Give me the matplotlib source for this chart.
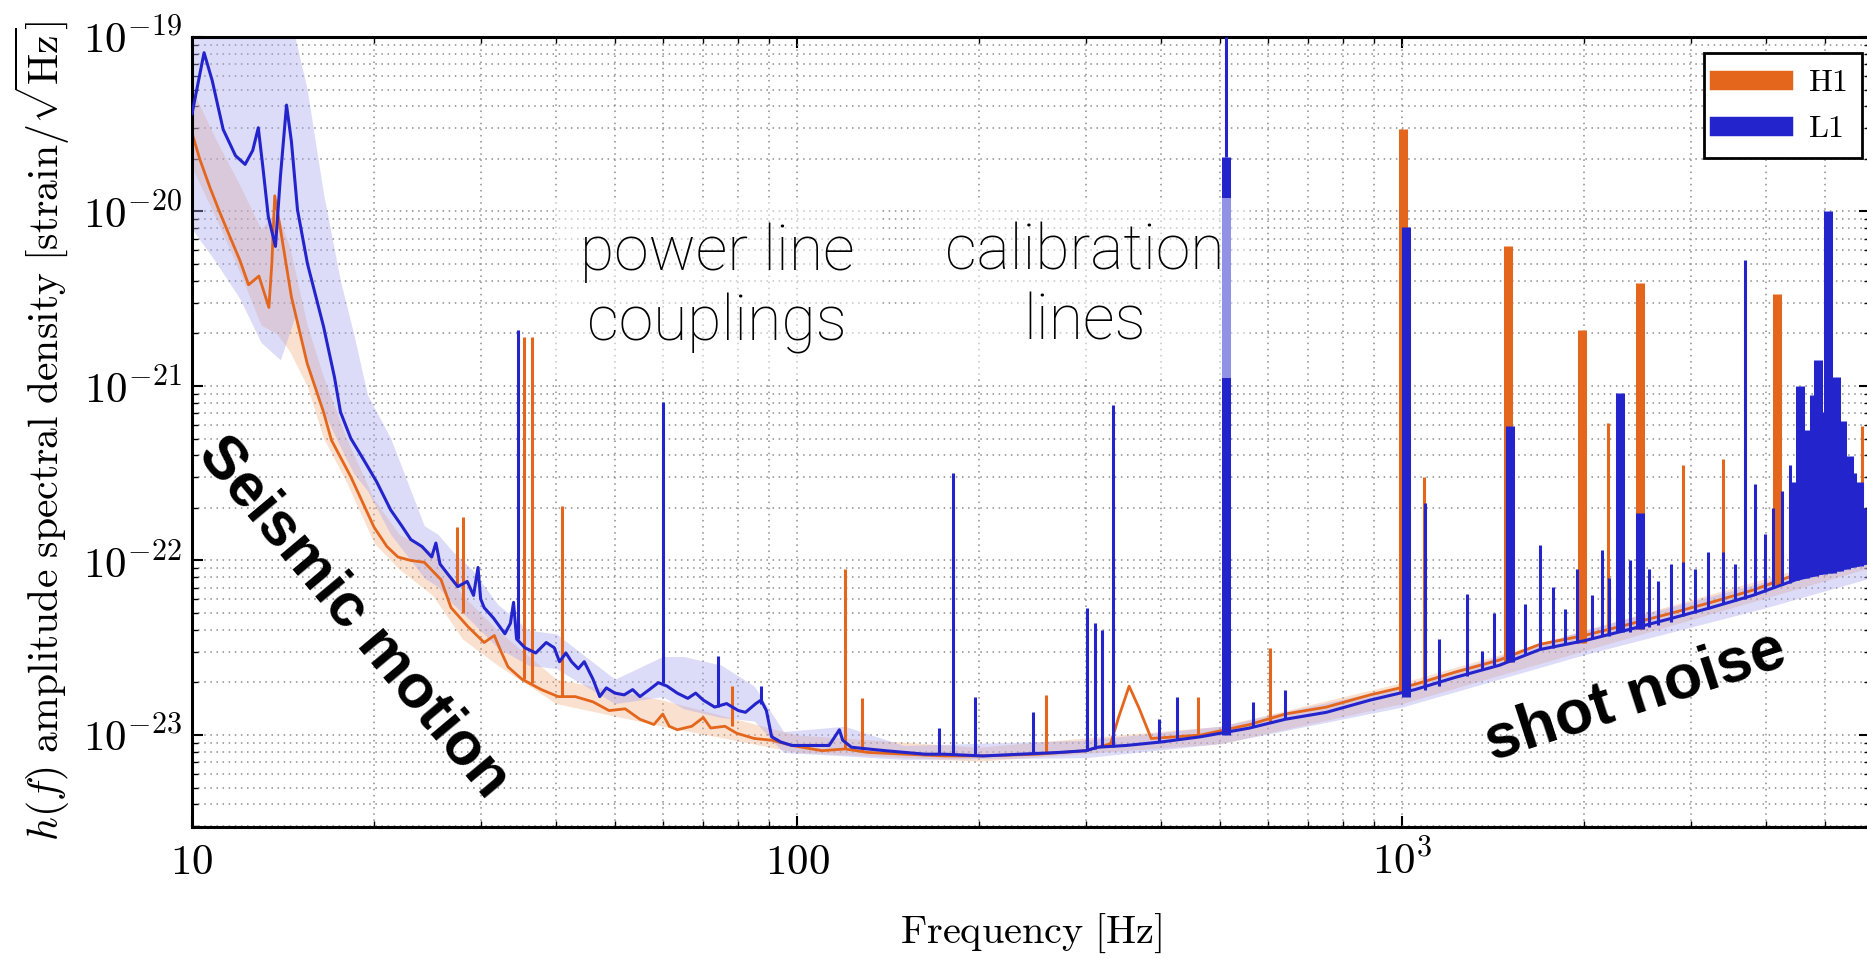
import matplotlib.pyplot as plt
import numpy as np

plt.rcParams['mathtext.fontset'] = 'cm'
plt.rcParams['font.family'] = 'DejaVu Serif'

# ---- values: frequency [Hz], log10(h [strain/sqrt(Hz)]) ----
l1_freq = [10, 10.47, 10.8, 11.26, 11.8, 12.24, 12.6, 12.87, 13.1, 13.37,
           13.74, 14.0, 14.33, 14.6, 14.94, 15.52, 16.5, 17.2, 17.6, 18.3,
           19.2, 20.2, 21.3, 22.2, 23.0, 24.0, 24.9, 25.3, 25.7, 26.5,
           27.5, 28.5, 29.2, 29.7, 30.0, 30.4, 31.5, 32.9, 33.6, 34.0,
           34.4, 35.5, 37.0, 38.5, 39.7, 40.5, 41.5, 42.4, 43.5, 44.5,
           46.0, 47.2, 48.4, 50.0, 51.8, 53.5, 55.0, 57.0, 59.0, 61.0,
           63.4, 66.0, 68.0, 70.0, 73.1, 76.5, 80.0, 82.2, 85.5, 87.2,
           89.0, 90.8, 94.0, 98.1, 105, 113, 116, 117.5, 119, 123,
           131, 140, 151, 163, 175, 203, 234, 271, 300, 314,
           350, 400, 465, 560, 641, 750, 886, 1050, 1224, 1450,
           1691, 2000, 2345, 2800, 3242, 3800, 4479, 5100, 5950]
l1_log_asd = [-19.44, -19.09, -19.25, -19.53, -19.68, -19.73, -19.65, -19.52, -19.75, -20.03,
              -20.20, -19.80, -19.39, -19.60, -19.99, -20.30, -20.66, -20.95, -21.15, -21.30,
              -21.42, -21.55, -21.71, -21.80, -21.88, -21.92, -21.98, -21.90, -22.02, -22.08,
              -22.15, -22.12, -22.20, -22.04, -22.22, -22.27, -22.33, -22.42, -22.36, -22.24,
              -22.45, -22.50, -22.53, -22.47, -22.50, -22.58, -22.53, -22.58, -22.62, -22.58,
              -22.68, -22.78, -22.73, -22.76, -22.77, -22.74, -22.78, -22.74, -22.70, -22.72,
              -22.76, -22.79, -22.76, -22.80, -22.84, -22.82, -22.86, -22.87, -22.82, -22.80,
              -22.86, -23.01, -23.04, -23.06, -23.06, -23.06, -23.00, -22.97, -23.03, -23.07,
              -23.08, -23.09, -23.10, -23.11, -23.11, -23.12, -23.11, -23.10, -23.09, -23.07,
              -23.06, -23.04, -23.01, -22.96, -22.91, -22.87, -22.80, -22.74, -22.67, -22.60,
              -22.51, -22.46, -22.40, -22.33, -22.27, -22.20, -22.11, -22.06, -22.01]

h1_freq = [10, 10.3, 10.7, 11.1, 11.57, 12.0, 12.4, 12.9, 13.4, 13.55,
           13.7, 14.0, 14.6, 15.5, 16.5, 17.0, 18.3, 20.0, 21.0, 21.9,
           23.0, 24.2, 25.8, 26.8, 28.6, 30.4, 31.6, 32.4, 33.3, 35.1,
           37.8, 40.3, 43.0, 46.0, 48.9, 52.0, 55.0, 58.0, 60.0, 61.5,
           63.4, 67.0, 70.0, 72.0, 76.0, 79.5, 85.0, 90.8, 98.1, 110,
           120, 131, 151, 175, 203, 250, 300, 330, 340, 354,
           368, 385, 465, 560, 641, 750, 886, 1050, 1224, 1450,
           1691, 2000, 2345, 2800, 3242, 3800, 4479, 5100, 5950]
h1_log_asd = [-19.55, -19.70, -19.86, -20.00, -20.15, -20.28, -20.42, -20.37, -20.55, -20.30,
              -19.91, -20.10, -20.49, -20.87, -21.15, -21.31, -21.52, -21.81, -21.92, -21.98,
              -22.00, -22.01, -22.11, -22.27, -22.38, -22.47, -22.43, -22.52, -22.61, -22.68,
              -22.74, -22.78, -22.78, -22.81, -22.86, -22.85, -22.91, -22.94, -22.88, -22.95,
              -22.97, -22.95, -22.90, -22.96, -22.95, -22.99, -23.02, -23.03, -23.06, -23.09,
              -23.08, -23.10, -23.11, -23.12, -23.12, -23.11, -23.09, -23.05, -22.90, -22.72,
              -22.85, -23.02, -23.00, -22.94, -22.88, -22.84, -22.77, -22.71, -22.64, -22.57,
              -22.48, -22.43, -22.37, -22.30, -22.24, -22.17, -22.08, -22.03, -21.98]

# percentile bands (log10)
l1_band_freq = [10, 11, 12, 13, 14, 14.8, 15.5, 16.5, 17.6, 18.5, 19.5, 21.3, 23, 24.2,
                25.5, 27, 29, 32, 36, 40, 50, 60, 65, 75, 85, 95, 120, 150, 300, 500,
                1000, 2000, 4000, 5950]
l1_band_lo = [-20.1, -20.3, -20.5, -20.75, -20.85, -20.6, -20.9, -21.15, -21.35, -21.5, -21.6,
              -21.85, -22.0, -22.1, -22.15, -22.25, -22.35, -22.5, -22.6, -22.62, -22.82,
              -22.78, -22.85, -22.9, -22.92, -23.1, -23.12, -23.14, -23.13, -23.05, -22.84,
              -22.54, -22.27, -22.10]
l1_band_hi = [-19.0, -19.0, -19.0, -19.0, -19.0, -19.0, -19.3, -19.9, -20.4, -20.7, -21.05,
              -21.3, -21.6, -21.8, -21.85, -21.95, -22.05, -22.25, -22.4, -22.42, -22.68,
              -22.55, -22.55, -22.6, -22.72, -22.98, -22.95, -23.06, -23.03, -22.95, -22.72,
              -22.40, -22.12, -21.95]
h1_band_freq = [10, 11, 12, 13, 13.8, 14.5, 15.5, 16.5, 18, 20, 22, 25, 28, 32, 40, 60,
                100, 200, 500, 1000, 5950]
h1_band_lo = [-19.75, -20.05, -20.35, -20.65, -20.7, -20.8, -21.0, -21.3, -21.55, -21.9,
              -22.05, -22.2, -22.45, -22.6, -22.82, -22.95, -23.1, -23.15, -23.05, -22.82, -22.04]
h1_band_hi = [-19.3, -19.6, -19.85, -20.1, -20.0, -20.2, -20.65, -20.95, -21.3, -21.65,
              -21.85, -21.95, -22.2, -22.4, -22.68, -22.8, -23.0, -23.07, -22.95, -22.7, -21.93]

# narrow lines: frequency, base, peak (log10)
l1_line_freq = [34.6, 60.0, 74.0, 87.2, 171.7, 181.1, 196.9, 245.5, 301.6, 310.9, 319.3, 332.8,
                396.5, 424.9, 511, 567, 640.8, 1091, 1150, 1280, 1356, 1420, 1600, 1691,
                1780, 1860, 1950, 2060, 2141, 2200, 2380, 2560, 2650, 2780, 2913, 3050, 3200,
                3394, 3550, 3690, 3832, 3980, 4100, 4250, 4380]
l1_line_base = [-22.45, -22.70, -22.84, -22.82, -23.11, -23.11, -23.11, -23.11, -23.09, -23.08,
                -23.07, -23.07, -23.04, -23.03, -19.69, -22.95, -22.91, -22.74, -22.72, -22.66,
                -22.63, -22.60, -22.54, -22.51, -22.50, -22.48, -22.47, -22.45, -22.43, -22.43,
                -22.41, -22.38, -22.37, -22.35, -22.32, -22.30, -22.28, -22.25, -22.23, -22.22,
                -22.20, -22.18, -22.16, -22.14, -22.13]
l1_line_peak = [-20.68, -21.09, -22.55, -22.72, -22.96, -21.50, -22.78, -22.87, -22.27, -22.36,
                -22.40, -21.11, -22.91, -22.78, -19.00, -22.81, -22.74, -21.67, -22.45, -22.19,
                -22.52, -22.30, -22.25, -21.91, -22.15, -22.28, -22.05, -22.20, -21.94, -22.10,
                -22.00, -22.05, -22.12, -22.02, -22.01, -22.05, -21.95, -21.95, -22.02, -20.28,
                -21.56, -21.85, -21.70, -21.60, -21.45]
h1_line_freq = [27.4, 28.1, 35.4, 36.5, 40.9, 78.1, 120.0, 128.0, 258, 460, 605, 1087, 2190,
                2913, 3394, 5758]
h1_line_base = [-22.15, -22.30, -22.68, -22.70, -22.78, -22.95, -23.08, -23.10, -23.11, -23.00,
                -22.93, -22.72, -22.42, -22.31, -22.24, -21.99]
h1_line_peak = [-21.81, -21.75, -20.72, -20.72, -21.69, -22.72, -22.05, -22.79, -22.77, -22.78,
                -22.50, -21.52, -21.21, -21.45, -21.42, -21.23]

# wide line groups (violin modes and high-frequency clusters)
l1_group_freq = [511, 1015, 1508, 2292, 2474, 4470, 4549, 4630, 4720, 4800, 4871, 4960, 5058,
                 5130, 5215, 5280, 5337, 5420, 5481, 5550, 5610, 5690, 5758, 5850]
l1_group_base = [-23.00, -22.78, -22.58, -22.41, -22.39, -22.11, -22.10, -22.10, -22.09, -22.09,
                 -22.08, -22.08, -22.07, -22.07, -22.06, -22.06, -22.05, -22.05, -22.04, -22.04,
                 -22.03, -22.03, -22.02, -22.02]
l1_group_peak = [-19.69, -20.09, -21.23, -21.04, -21.73, -21.55, -21.0, -21.25, -21.3, -21.05,
                 -20.85, -21.15, -20.0, -21.1, -20.95, -21.3, -21.2, -21.45, -21.4, -21.5,
                 -21.6, -21.55, -21.8, -21.7]
h1_group_freq = [1003, 1497, 1984, 2474, 4168]
h1_group_base = [-22.76, -22.58, -22.47, -22.39, -22.14]
h1_group_peak = [-19.53, -20.20, -20.68, -20.41, -20.47]

xtick_vals = [10, 100, 1000]
xtick_labels = [r'$10$', r'$100$', r'$10^{3}$']
ytick_vals = [1e-23, 1e-22, 1e-21, 1e-20, 1e-19]
ytick_labels = [r'$10^{-23}$', r'$10^{-22}$', r'$10^{-21}$', r'$10^{-20}$', r'$10^{-19}$']


def lin(v):
    return 10.0 ** np.asarray(v)


H1_COLOR = '#e4661c'
L1_COLOR = '#2424cc'

fig = plt.figure(figsize=(18.67, 9.59), dpi=100)
W, H = 1867, 959
ax = fig.add_axes([192 / W, 1 - 827 / H, (1870 - 192) / W, (827 - 37) / H])
ax.set_xscale('log')
ax.set_yscale('log')

# bands
ax.fill_between(h1_band_freq, lin(h1_band_lo), lin(h1_band_hi), color='#f2a878', alpha=0.35,
                lw=0, zorder=1)
ax.fill_between(l1_band_freq, lin(l1_band_lo), lin(l1_band_hi), color='#a8a8ee', alpha=0.40,
                lw=0, zorder=1.1)

# H1
ax.vlines(h1_group_freq, lin(h1_group_base), lin(h1_group_peak), color=H1_COLOR, lw=6.5, zorder=2)
ax.vlines(h1_line_freq, lin(h1_line_base), lin(h1_line_peak), color=H1_COLOR, lw=2.2, zorder=2)
ax.plot(h1_freq, lin(h1_log_asd), color=H1_COLOR, lw=2.0, label='H1', zorder=2.5)

# L1
ax.vlines(l1_group_freq, lin(l1_group_base), lin(l1_group_peak), color=L1_COLOR, lw=6.5, zorder=3)
ax.vlines(l1_line_freq, lin(l1_line_base), lin(l1_line_peak), color=L1_COLOR, lw=2.2, zorder=3)
ax.plot(l1_freq, lin(l1_log_asd), color=L1_COLOR, lw=2.2, label='L1', zorder=3.5)

ax.set_xlim(10, 5937)
ax.set_ylim(2.97e-24, 1e-19)

ax.set_xticks(xtick_vals, labels=xtick_labels)
ax.set_yticks(ytick_vals, labels=ytick_labels)
ax.xaxis.set_minor_formatter(plt.NullFormatter())
ax.yaxis.set_minor_formatter(plt.NullFormatter())
ax.tick_params(which='both', direction='in', top=True, right=True, colors='black')
ax.tick_params(which='major', length=8, width=1.5, labelsize=31)
ax.tick_params(which='minor', length=4, width=1.0)
ax.tick_params(axis='y', which='major', pad=7)
ax.tick_params(axis='x', which='major', pad=34)
for tick in ax.xaxis.get_major_ticks():
    tick.label1.set_verticalalignment('baseline')

for side in ['left', 'bottom', 'top']:
    ax.spines[side].set_linewidth(2.2)
ax.spines['right'].set_visible(False)

ax.grid(True, which='both', color='#8c8c8c', linestyle=(0, (1, 3)), linewidth=1.1)
ax.set_axisbelow(True)

ax.set_xlabel(r'$\mathrm{Frequency\ [Hz]}$', fontsize=29)
ax.xaxis.set_label_coords(0.5, (827 - 912) / 790)
ax.xaxis.label.set_verticalalignment('top')
ax.set_ylabel(r'$h(f)\ \mathrm{amplitude\ spectral\ density\ [strain/}\sqrt{\mathrm{Hz}}\mathrm{]}$',
              fontsize=30)
ax.yaxis.set_label_coords((72 - 192) / 1678, (827 - 431) / 790)

leg = ax.legend(loc='upper right', bbox_to_anchor=(1862 / W, 1 - 53 / H),
                bbox_transform=fig.transFigure, fontsize=23, fancybox=False,
                edgecolor='black', framealpha=1, handlelength=2.0, handletextpad=0.8,
                borderaxespad=0, borderpad=0.45, labelspacing=0.45)
leg.get_frame().set_linewidth(2)
for t in leg.get_texts():
    t.set_text(r'$\mathrm{' + t.get_text() + '}$')
for h in leg.legend_handles:
    h.set_linewidth(14)
leg.set_zorder(10)

# annotations
box = dict(boxstyle='square,pad=0.4', facecolor='white', alpha=0.5, edgecolor='none')
fig.text(717 / W, 1 - 340 / H, 'power line\ncouplings', fontsize=45, ha='center',
         va='baseline', family='Roboto', fontweight='light', bbox=box, zorder=6)
fig.text(1085 / W, 1 - 340 / H, 'calibration\nlines', fontsize=45, ha='center',
         va='baseline', family='Roboto', fontweight='light', bbox=box, zorder=6)
fig.text(353 / W, 1 - 618 / H, 'Seismic motion', fontsize=44, ha='center', va='center',
         rotation=-50, rotation_mode='anchor', family='Liberation Sans', fontweight='bold',
         zorder=6)
fig.text(1635 / W, 1 - 697 / H, 'shot noise', fontsize=45, ha='center', va='center',
         rotation=18, rotation_mode='anchor', family='Liberation Sans', fontweight='bold',
         zorder=6)

fig.savefig('out.png', dpi=100, facecolor='white')
